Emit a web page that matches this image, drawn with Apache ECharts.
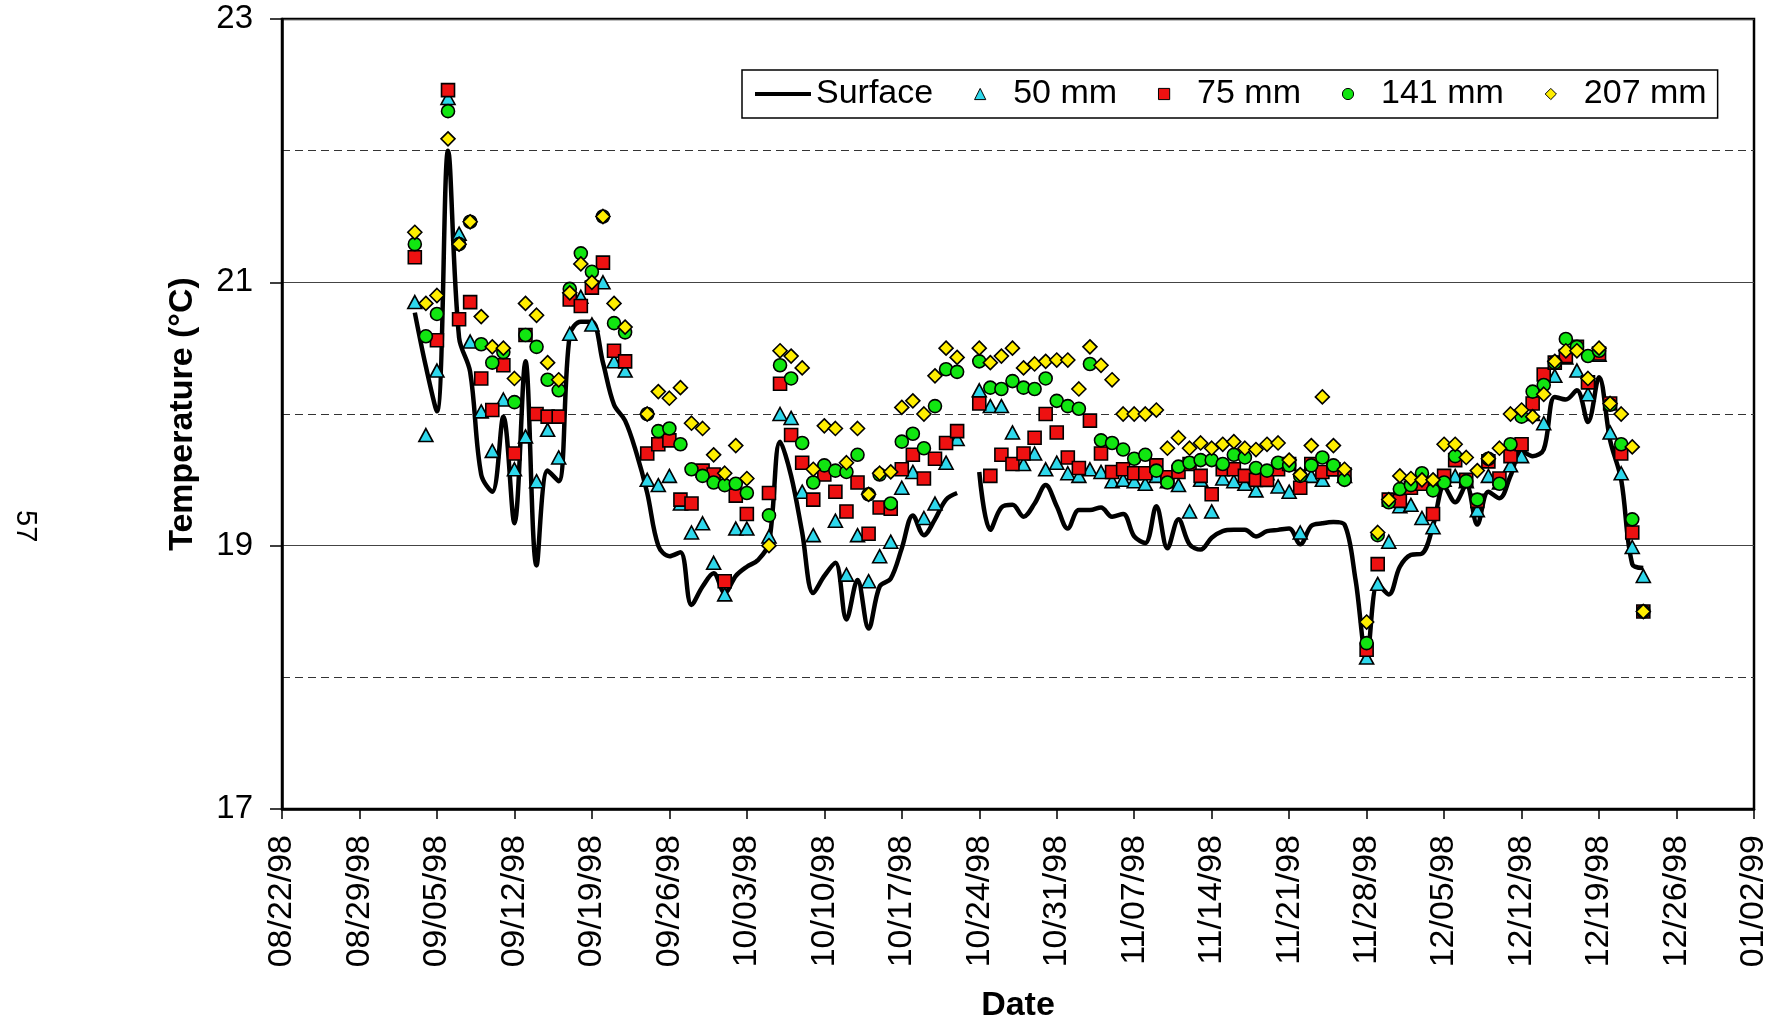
<!DOCTYPE html>
<html>
<head>
<meta charset="utf-8">
<script src="https://cdn.jsdelivr.net/npm/echarts@6/dist/echarts.min.js"></script>
<style>
  html, body { margin: 0; padding: 0; background: #fff; }
  #chart { width: 1780px; height: 1025px; }
</style>
</head>
<body>
<div id="chart"></div>
<script>
// Axis origin: 08/22/98. X values are days after this date.
const axisStartUTC = Date.UTC(1998, 7, 22);
// Daily readings begin on 09/03/98 (day 12) and run to 12/23/98 (day 123).
const firstReadingDay = 12;

const surface = [
  20.77, 20.36, 20.02, 22.00, 20.58, 20.32, 19.54, 19.41, 19.98, 19.17,
  20.40, 18.85, 19.57, 19.49, 20.60, 20.70, 20.70, 20.39, 20.07, 19.95,
  19.71, 19.40, 19.00, 18.92, 18.95, 18.55, 18.69, 18.79, 18.64, 18.77,
  18.84, 18.89, 19.02, 19.79, 19.53, 19.10, 18.64, 18.77, 18.87, 18.44,
  18.74, 18.37, 18.69, 18.75, 18.98, 19.23, 19.08, 19.20, 19.35, 19.40,
  null,  19.56, 19.12, 19.29, 19.31, 19.22, 19.32, 19.46, 19.30, 19.13,
  19.27, 19.27, 19.29, 19.22, 19.24, 19.07, 19.02, 19.30, 18.98, 19.20,
  19.01, 18.97, 19.06, 19.11, 19.12, 19.12, 19.07, 19.11, 19.12, 19.13,
  19.01, 19.15, 19.17, 19.18, 19.16, 18.74, 18.15, 18.71, 18.63, 18.84,
  18.93, 18.94, 19.15, 19.45, 19.33, 19.46, 19.16, 19.41, 19.36, 19.53,
  19.72, 19.68, 19.73, 20.13, 20.11, 20.18, 19.94, 20.28, 19.80, 19.50,
  18.86, 18.83
];

const depth50 = [
  20.85, 19.84, 20.33, 22.40, 21.37, 20.55, 20.02, 19.72, 20.11, 19.58,
  19.83, 19.49, 19.88, 19.67, 20.61, 20.89, 20.68, 21.00, 20.40, 20.33,
  null,  19.50, 19.46, 19.53, 19.32, 19.10, 19.17, 18.87, 18.63, 19.13,
  19.13, null,  19.07, 20.00, 19.97, 19.41, 19.08, null,  19.19, 18.78,
  19.08, 18.73, 18.92, 19.03, 19.44, 19.56, 19.21, 19.32, 19.63, 19.81,
  null,  20.18, 20.06, 20.06, 19.86, 19.62, 19.70, 19.58, 19.63, 19.55,
  19.53, 19.58, 19.56, 19.49, 19.50, 19.49, 19.47, 19.53, 19.49, 19.46,
  19.26, 19.50, 19.26, 19.51, 19.49, 19.47, 19.42, 19.55, 19.45, 19.41,
  19.10, 19.53, 19.50, 19.58, 19.53, null,  18.15, 18.71, 19.03, 19.30,
  19.31, 19.21, 19.14, 19.50, 19.53, 19.49, 19.27, 19.53, 19.48, 19.61,
  19.68, 20.00, 19.93, 20.29, 20.43, 20.33, 20.15, 20.45, 19.86, 19.55,
  18.99, 18.77
];

const depth75 = [
  21.19, null,  20.56, 22.46, 20.72, 20.85, 20.27, 20.03, 20.37, 19.70,
  20.60, 20.00, 19.98, 19.98, 20.87, 20.82, 20.96, 21.15, 20.48, 20.40,
  null,  19.70, 19.77, 19.80, 19.35, 19.32, 19.57, 19.54, 18.73, 19.38,
  19.24, null,  19.40, 20.23, 19.84, 19.63, 19.35, 19.54, 19.41, 19.26,
  19.48, 19.09, 19.29, 19.28, 19.58, 19.69, 19.51, 19.66, 19.78, 19.87,
  null,  20.08, 19.53, 19.69, 19.62, 19.70, 19.82, 20.00, 19.86, 19.67,
  19.59, 19.95, 19.70, 19.56, 19.58, 19.55, 19.55, 19.61, 19.52, 19.56,
  19.62, 19.53, 19.39, 19.58, 19.58, 19.53, 19.50, 19.50, 19.58, 19.62,
  19.44, 19.62, 19.56, 19.58, 19.54, null,  18.21, 18.86, 19.35, 19.34,
  19.44, 19.47, 19.24, 19.53, 19.65, 19.50, 19.34, 19.64, 19.51, 19.68,
  19.77, 20.08, 20.30, 20.39, 20.44, 20.51, 20.24, 20.46, 20.08, 19.70,
  19.10, 18.50
];

const depth141 = [
  21.29, 20.59, 20.76, 22.30, 21.29, 21.46, 20.53, 20.39, 20.47, 20.09,
  20.60, 20.51, 20.26, 20.18, 20.95, 21.22, 21.08, 21.50, 20.69, 20.62,
  null,  20.00, 19.87, 19.89, 19.77, 19.58, 19.53, 19.48, 19.46, 19.47,
  19.40, null,  19.23, 20.37, 20.27, 19.78, 19.48, 19.61, 19.57, 19.56,
  19.69, 19.39, 19.54, 19.32, 19.79, 19.85, 19.74, 20.06, 20.34, 20.32,
  null,  20.40, 20.20, 20.19, 20.25, 20.20, 20.19, 20.27, 20.10, 20.06,
  20.04, 20.38, 19.80, 19.78, 19.73, 19.66, 19.69, 19.57, 19.48, 19.60,
  19.63, 19.65, 19.65, 19.62, 19.69, 19.67, 19.59, 19.57, 19.63, 19.61,
  19.53, 19.61, 19.67, 19.61, 19.50, null,  18.26, 19.08, 19.33, 19.43,
  19.46, 19.55, 19.42, 19.48, 19.68, 19.49, 19.35, 19.66, 19.47, 19.77,
  19.98, 20.17, 20.22, 20.39, 20.57, 20.51, 20.44, 20.48, 20.07, 19.77,
  19.20, 18.50
];

const depth207 = [
  21.38, 20.84, 20.90, 22.09, 21.29, 21.46, 20.74, 20.51, 20.50, 20.27,
  20.84, 20.75, 20.39, 20.26, 20.92, 21.14, 21.00, 21.50, 20.84, 20.66,
  null,  20.00, 20.17, 20.12, 20.20, 19.93, 19.89, 19.69, 19.55, 19.76,
  19.51, null,  19.00, 20.48, 20.44, 20.35, 19.58, 19.91, 19.89, 19.63,
  19.89, 19.39, 19.55, 19.56, 20.05, 20.10, 20.00, 20.29, 20.50, 20.43,
  null,  20.50, 20.39, 20.44, 20.50, 20.35, 20.38, 20.40, 20.41, 20.41,
  20.19, 20.51, 20.37, 20.26, 20.00, 20.00, 20.00, 20.03, 19.74, 19.82,
  19.74, 19.78, 19.74, 19.77, 19.79, 19.74, 19.73, 19.77, 19.78, 19.65,
  19.54, 19.76, 20.13, 19.76, 19.58, null,  18.42, 19.10, 19.35, 19.53,
  19.51, 19.50, 19.50, 19.77, 19.77, 19.67, 19.57, 19.66, 19.74, 20.00,
  20.03, 19.98, 20.15, 20.40, 20.48, 20.48, 20.27, 20.50, 20.08, 20.00,
  19.75, 18.50
];

const seriesNames = ['Surface', '50 mm', '75 mm', '141 mm', '207 mm'];
const temperatureTicks = [17, 19, 21, 23];

const FONT = '"Liberation Sans", Arial, Helvetica, sans-serif';

function pad2(n) { return (n < 10 ? '0' : '') + n; }
function dayLabel(day) {
  const d = new Date(axisStartUTC + day * 86400000);
  return pad2(d.getUTCMonth() + 1) + '/' + pad2(d.getUTCDate()) + '/' + String(d.getUTCFullYear()).slice(2);
}
function toPoints(values) {
  return values.map((v, i) => [firstReadingDay + i, v]);
}

// Depth readings are markers only: a line series with its line hidden,
// so the legend shows each marker centred in a line-width slot.
function markerSeries(name, values, symbol, size, color) {
  return {
    name: name,
    type: 'line',
    data: toPoints(values),
    symbol: symbol,
    symbolSize: size,
    showSymbol: true,
    showAllSymbol: true,
    connectNulls: false,
    lineStyle: { width: 0, opacity: 0 },
    itemStyle: { color: color, borderColor: '#000', borderWidth: 1.6, opacity: 1 },
    emphasis: { disabled: true },
    z: 3
  };
}

const chart = echarts.init(document.getElementById('chart'), null, { renderer: 'canvas' });

chart.setOption({
  animation: false,
  backgroundColor: '#fff',
  textStyle: { fontFamily: FONT },
  grid: {
    left: 282, top: 19, width: 1472, height: 790,
    show: true, borderColor: '#000', borderWidth: 2.5,
    backgroundColor: 'transparent',
    outerBoundsMode: 'none'
  },
  legend: {
    left: 742, top: 70,
    padding: [7, 11, 7, 11],
    orient: 'horizontal',
    backgroundColor: '#fff',
    borderColor: '#000', borderWidth: 1.5, borderRadius: 0,
    itemWidth: 56, itemHeight: 14, itemGap: 19,
    selectedMode: false,
    textStyle: { fontSize: 34, color: '#000', fontFamily: FONT },
    itemStyle: { borderWidth: 1 },
    data: [
      { name: seriesNames[0], itemStyle: { opacity: 0 }, lineStyle: { width: 4 } },
      { name: seriesNames[1] },
      { name: seriesNames[2] },
      { name: seriesNames[3] },
      { name: seriesNames[4] }
    ]
  },
  xAxis: {
    type: 'value',
    min: 0, max: 133, interval: 7,
    name: 'Date',
    nameLocation: 'middle',
    nameGap: 180,
    nameTextStyle: { fontSize: 34, fontWeight: 'bold', color: '#000', fontFamily: FONT },
    axisLine: { show: true, onZero: false, lineStyle: { color: '#000', width: 2.5 } },
    axisTick: { show: true, inside: false, length: 10, lineStyle: { color: '#000', width: 1.5 } },
    axisLabel: {
      rotate: 90, margin: 26, fontSize: 34, color: '#000', fontFamily: FONT,
      formatter: dayLabel
    },
    splitLine: { show: false }
  },
  yAxis: {
    type: 'value',
    min: temperatureTicks[0], max: temperatureTicks[temperatureTicks.length - 1],
    interval: temperatureTicks[1] - temperatureTicks[0],
    name: 'Temperature (\u00B0C)',
    nameLocation: 'middle',
    nameGap: 82,
    nameRotate: 90,
    nameTextStyle: { fontSize: 34, fontWeight: 'bold', color: '#000', fontFamily: FONT },
    axisLine: { show: true, onZero: false, lineStyle: { color: '#000', width: 2.5 } },
    axisTick: { show: true, inside: false, length: 12, lineStyle: { color: '#000', width: 1.5 } },
    axisLabel: { margin: 29, fontSize: 33, color: '#000', fontFamily: FONT },
    splitLine: { show: true, lineStyle: { color: '#444', width: 1.2 } },
    minorTick: { show: false, splitNumber: 2 },
    minorSplitLine: { show: true, lineStyle: { color: '#333', width: 1.2, type: [8, 5] } }
  },
  series: [
    {
      name: seriesNames[0],
      type: 'line',
      data: toPoints(surface),
      smooth: 0.35,
      symbol: 'none',
      connectNulls: false,
      lineStyle: { color: '#000', width: 4.5 },
      itemStyle: { color: '#000' },
      emphasis: { disabled: true },
      z: 2
    },
    markerSeries(seriesNames[1], depth50, 'triangle', [14, 13], '#2ED8EC'),
    markerSeries(seriesNames[2], depth75, 'rect', 13, '#EE1111'),
    markerSeries(seriesNames[3], depth141, 'circle', 13, '#11E611'),
    markerSeries(seriesNames[4], depth207, 'diamond', 14, '#FFEE00')
  ],
  graphic: [
    {
      type: 'text',
      left: 10, top: 510,
      rotation: -Math.PI / 2,
      originX: 0, originY: 0,
      style: { text: '57', fontSize: 29, fill: '#000', fontFamily: FONT }
    }
  ]
});
</script>
</body>
</html>
